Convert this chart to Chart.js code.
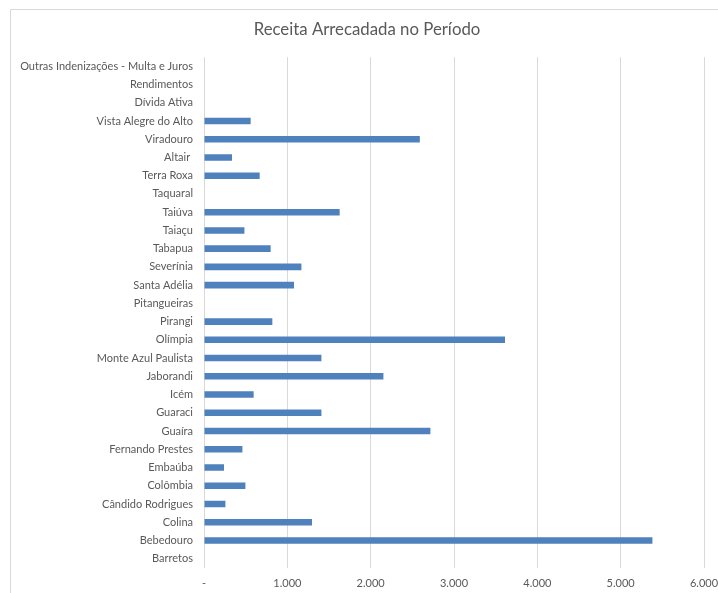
<!DOCTYPE html>
<html>
<head>
<meta charset="utf-8">
<script src="https://cdn.jsdelivr.net/npm/chart.js@4/dist/chart.umd.min.js"></script>
<style>
  html, body { margin: 0; padding: 0; background: #fff; }
  #wrap { width: 718px; height: 593px; position: relative; }
</style>
</head>
<body>
<div id="wrap"><canvas id="receitaChart" width="718" height="593"></canvas></div>
<script>
// categorias de cima para baixo, como no gráfico original
const categorias = [
  'Outras Indenizações - Multa e Juros', 'Rendimentos', 'Dívida Ativa',
  'Vista Alegre do Alto', 'Viradouro', 'Altair ', 'Terra Roxa', 'Taquaral',
  'Taiúva', 'Taiaçu', 'Tabapua', 'Severínia', 'Santa Adélia', 'Pitangueiras',
  'Pirangi', 'Olímpia', 'Monte Azul Paulista', 'Jaborandi', 'Icém', 'Guaraci',
  'Guaíra', 'Fernando Prestes', 'Embaúba', 'Colômbia', 'Cândido Rodrigues',
  'Colina', 'Bebedouro', 'Barretos'
];
const receita = [
  0, 0, 0,
  560, 2590, 336, 668, 0,
  1628, 485, 800, 1169, 1080, 0,
  820, 3612, 1409, 2153, 596, 1409,
  2717, 461, 240, 497, 257,
  1296, 5381, 0
];
const eixoMin = 0;
const eixoMax = 6000;
const eixoPasso = 1000;

const cinzaTexto = '#595959';
const cinzaLinha = '#d9d9d9';
const fonte = 'Lato, "Open Sans", sans-serif';

// moldura fina do gráfico (borda do Excel)
const moldura = {
  id: 'moldura',
  beforeDraw(chart) {
    const ctx = chart.ctx;
    ctx.save();
    ctx.strokeStyle = cinzaLinha;
    ctx.lineWidth = 1;
    ctx.beginPath();
    ctx.moveTo(10.5, chart.height);
    ctx.lineTo(10.5, 9.5);
    ctx.lineTo(chart.width, 9.5);
    ctx.stroke();
    ctx.restore();
  }
};

function formataMilhar(v) {
  if (v === 0) return '-';
  return v.toLocaleString('de-DE');
}

const ctx = document.getElementById('receitaChart').getContext('2d');
new Chart(ctx, {
  type: 'bar',
  data: {
    labels: categorias,
    datasets: [{
      label: 'Receita',
      data: receita,
      backgroundColor: '#4f81bd',
      borderWidth: 0,
      categoryPercentage: 1,
      barPercentage: 0.36
    }]
  },
  options: {
    indexAxis: 'y',
    responsive: false,
    animation: false,
    devicePixelRatio: 1,
    layout: { padding: { left: 16, right: 0, top: 0, bottom: -6 } },
    plugins: {
      legend: { display: false },
      tooltip: { enabled: false },
      title: {
        display: true,
        text: 'Receita Arrecadada no Período',
        color: cinzaTexto,
        font: { family: fonte, size: 16.8, weight: 'normal' },
        padding: { top: 20, bottom: 17 }
      }
    },
    scales: {
      x: {
        min: eixoMin,
        max: eixoMax,
        afterFit(scale) { scale.paddingRight = 14; },
        ticks: {
          stepSize: eixoPasso,
          color: cinzaTexto,
          font: { family: fonte, size: 11 },
          padding: 9,
          maxRotation: 0,
          callback: (v) => formataMilhar(v)
        },
        grid: { color: cinzaLinha, drawTicks: false },
        border: { display: false }
      },
      y: {
        afterFit(scale) { scale.width = 188; },
        ticks: {
          color: cinzaTexto,
          font: { family: fonte, size: 11 },
          padding: 11,
          autoSkip: false
        },
        grid: { display: false, drawTicks: false },
        border: { display: false }
      }
    }
  },
  plugins: [moldura]
});
</script>
</body>
</html>
